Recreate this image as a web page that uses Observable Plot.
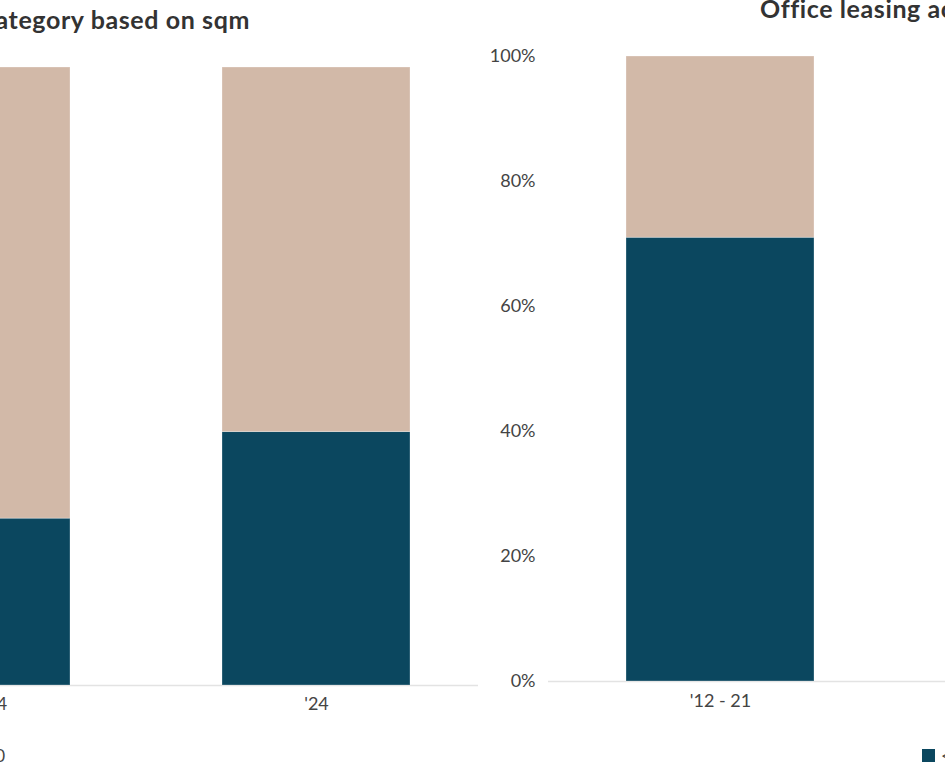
<!DOCTYPE html>
<html>
<head>
<meta charset="utf-8">
<script src="https://cdn.jsdelivr.net/npm/d3@7"></script>
<script src="https://cdn.jsdelivr.net/npm/@observablehq/plot@0.6"></script>
<style>
  html, body { margin: 0; padding: 0; background: #fff; }
  #wrap { position: relative; width: 945px; height: 770px; overflow: hidden; background: #fff; font-family: Lato, "Noto Sans", sans-serif; }
  .title { position: absolute; white-space: nowrap; font-weight: 700; font-size: 25px; letter-spacing: 0.6px; color: #333; font-family: Lato, sans-serif; }
  .legend { position: absolute; white-space: nowrap; font-size: 17px; color: #444; display: flex; align-items: center; gap: 6px; }
  .sw { display: inline-block; width: 13px; height: 13px; }
  .chart { position: absolute; top: 0; }
  .chart svg { max-width: none !important; }
</style>
</head>
<body>
<div id="wrap">
  <div class="title" id="t1" style="right:695px; top:4px;">Office leasing activity by size category based on sqm</div>
  <div class="title" id="t2" style="left:760px; top:-7px;">Office leasing activity by size category based on sqm</div>
  <div class="chart" id="left" style="left:-400px;"></div>
  <div class="chart" id="right" style="left:0px;"></div>
  <div class="legend" id="lg1" style="right:940px; top:745px;"></div>
  <div class="legend" id="lg2" style="left:922px; top:745px;"></div>
</div>
<script>
const seriesNames = ["< 1,000", "> 1,000"];
const seriesColors = ["#0b475f", "#d2b9a8"];
const leftCategories = ["'12 - 24", "'24"];
const leftSmall = [27, 41];
const leftLarge = [73, 59];
const rightCategories = ["'12 - 21", "'24"];
const rightSmall = [71, 42];
const rightLarge = [29, 58];
const yTicks = [0, 20, 40, 60, 80, 100];

function table(cats, small, large) {
  const rows = [];
  cats.forEach((c, i) => {
    rows.push({cat: c, series: seriesNames[0], value: small[i]});
    rows.push({cat: c, series: seriesNames[1], value: large[i]});
  });
  return rows;
}

function chart(cats, small, large, opts) {
  return Plot.plot({
    width: opts.width,
    height: 720,
    marginTop: opts.top,
    marginBottom: 720 - opts.bottom,
    marginLeft: opts.marginLeft,
    marginRight: 0,
    style: {fontFamily: "Lato, 'Noto Sans', sans-serif", fontSize: "18px", color: "#444", background: "transparent", maxWidth: "none"},
    x: {domain: cats, range: opts.xRange, padding: 0.447, label: null, tickSize: 0, tickPadding: opts.xPad},
    y: {domain: [0, 100], ticks: yTicks, tickFormat: d => d + "%", label: null, tickSize: 0, tickPadding: 13, axis: opts.yAxis},
    color: {domain: seriesNames, range: seriesColors},
    marks: [
      Plot.ruleY([0], {stroke: "#e3e3e3", strokeWidth: 1.5}),
      Plot.barY(table(cats, small, large), {x: "cat", y: "value", fill: "series", stroke: "#ffffff", strokeOpacity: 0.35, strokeWidth: 0.8})
    ]
  });
}

document.getElementById("left").appendChild(chart(leftCategories, leftSmall, leftLarge, {
  width: 878, top: 67, bottom: 685, marginLeft: 60, xRange: [130, 962], xPad: 12, yAxis: null
}));
document.getElementById("right").appendChild(chart(rightCategories, rightSmall, rightLarge, {
  width: 1100, top: 56, bottom: 681, marginLeft: 548, xRange: [474, 1306], xPad: 13, yAxis: "left"
}));

function legend(el) {
  seriesNames.forEach((n, i) => {
    const s = document.createElement("span");
    s.className = "sw"; s.style.background = seriesColors[i];
    const t = document.createElement("span");
    t.textContent = n; t.style.marginRight = "14px";
    el.appendChild(s); el.appendChild(t);
  });
  el.lastChild.style.marginRight = "0";
}
legend(document.getElementById("lg1"));
legend(document.getElementById("lg2"));
</script>
</body>
</html>
